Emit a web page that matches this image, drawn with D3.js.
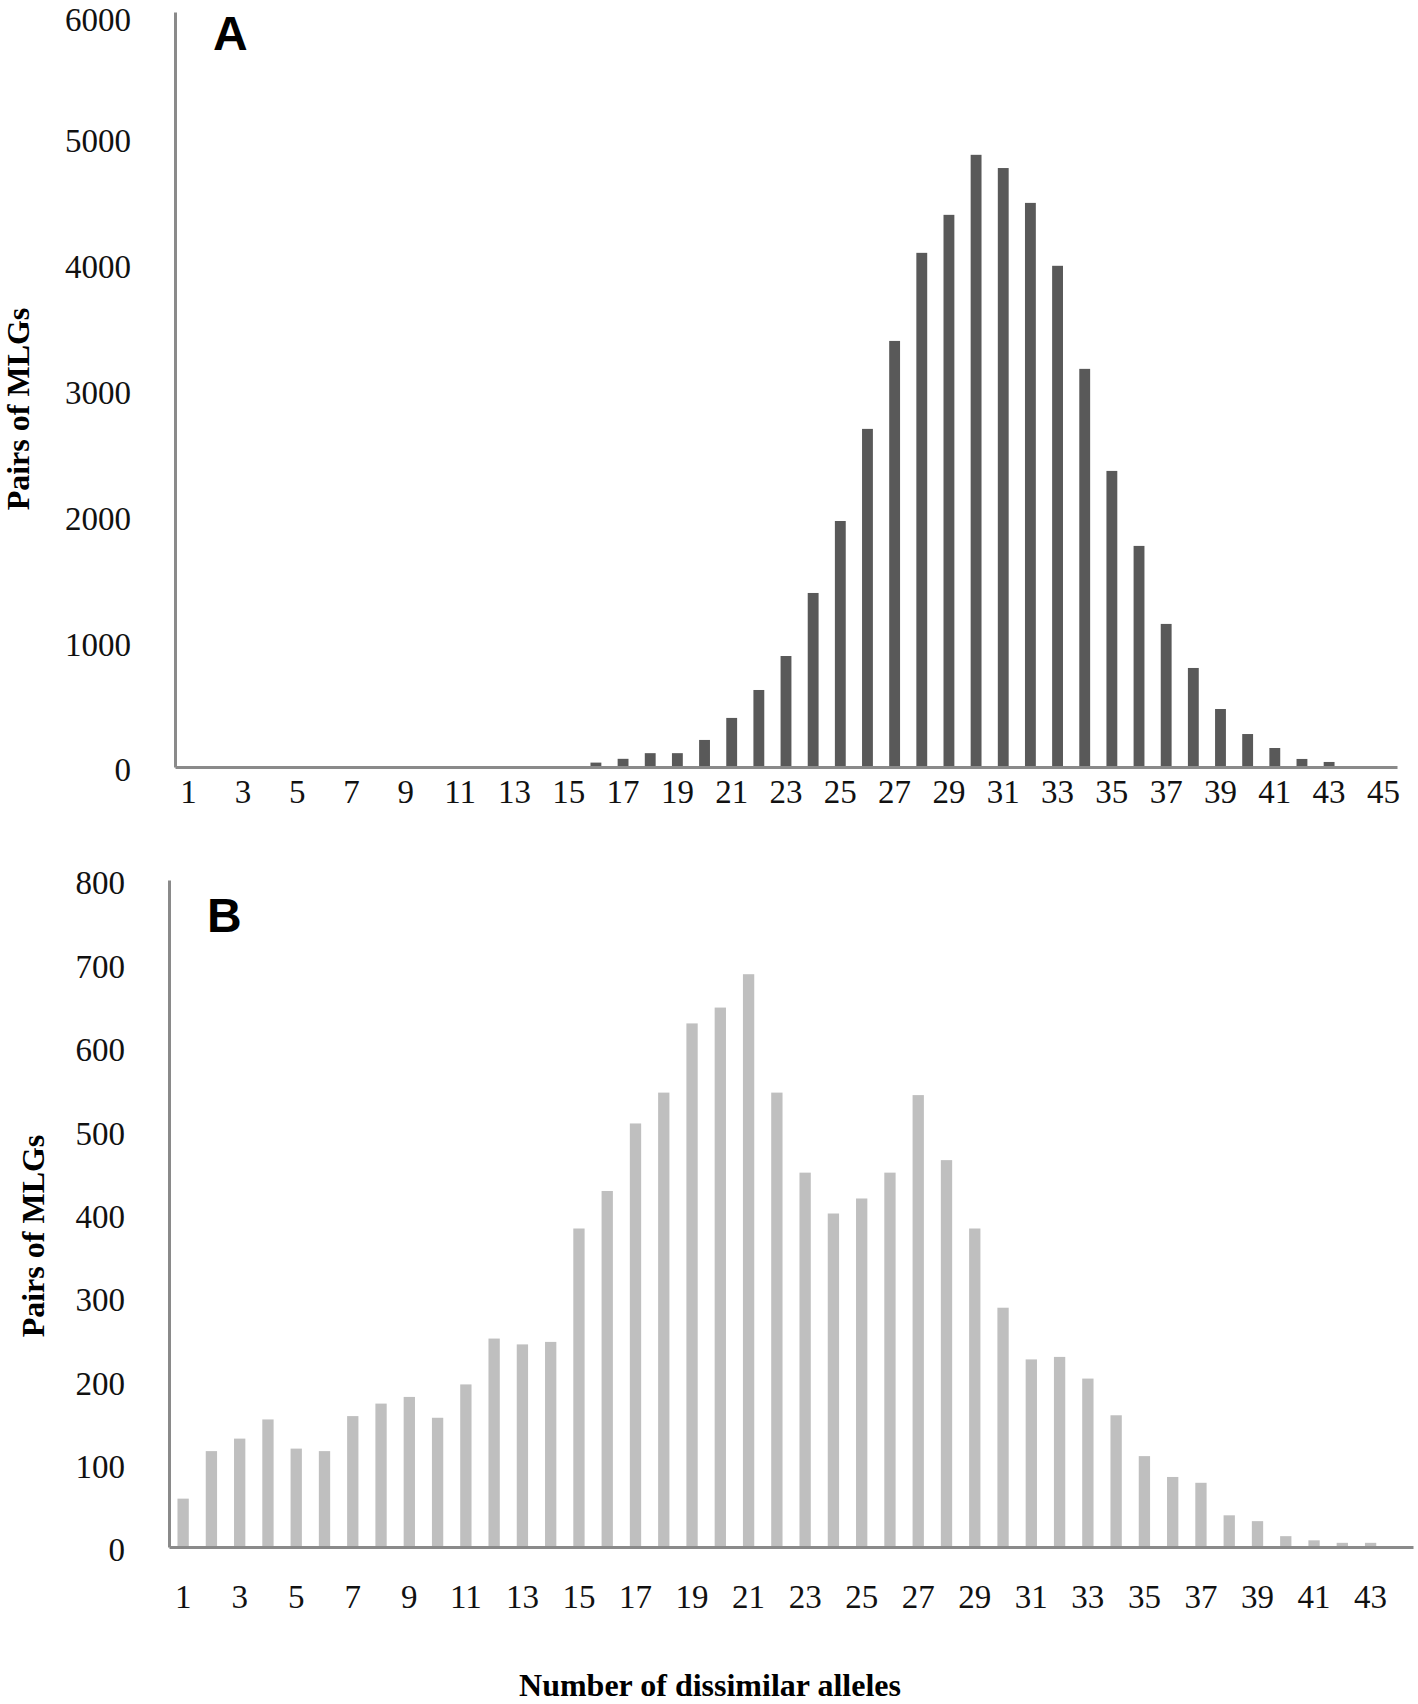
<!DOCTYPE html>
<html>
<head>
<meta charset="utf-8">
<script src="https://cdn.jsdelivr.net/npm/d3@7"></script>
<style>
  body { margin: 0; background: #fff; }
  svg { display: block; }
</style>
</head>
<body>
<svg width="1418" height="1704"></svg>
<script>
// число несхожих аллелей (категории по оси X)
const allelesA = d3.range(1, 46);
const allelesB = d3.range(1, 45);

// Панель A: пары MLG
const pairsA = [0, 0, 0, 0, 0, 0, 0, 0, 0, 0, 0, 0, 0, 0, 0,
  35, 65, 110, 110, 215, 390, 612, 882, 1383, 1955, 2687, 3386, 4086, 4388, 4865,
  4760, 4483, 3983, 3164, 2353, 1757, 1137, 787, 461, 262, 151, 64, 40, 0, 0];

// Панель B: пары MLG
const pairsB = [58, 115, 130, 153, 118, 115, 157, 172, 180, 155,
  195, 250, 243, 246, 382, 427, 508, 545, 628, 647,
  687, 545, 449, 400, 418, 449, 542, 464, 382, 287,
  225, 228, 202, 158, 109, 84, 77, 38, 31, 13,
  8, 5, 5, 0];

const ticksYA = [0, 1000, 2000, 3000, 4000, 5000, 6000];
const ticksYB = [0, 100, 200, 300, 400, 500, 600, 700, 800];
const ticksXA = allelesA.filter(d => d % 2 === 1);
const ticksXB = allelesB.filter(d => d % 2 === 1);

const svg = d3.select("svg");
const axisColor = "#8a8a8a";
const serif = "'Liberation Serif', 'Times New Roman', serif";

function drawPanel(opt) {
    const x = d3.scaleBand()
        .domain(opt.cats)
        .range([opt.left, opt.right])
        .paddingInner(0.6)
        .paddingOuter(0.3);
    const y = d3.scaleLinear()
        .domain([0, opt.max])
        .range([opt.bottom, opt.top]);

    const g = svg.append("g");

    // столбцы
    g.selectAll("rect")
        .data(opt.values)
        .join("rect")
        .attr("x", (d, i) => x(opt.cats[i]))
        .attr("width", x.bandwidth())
        .attr("y", d => y(d))
        .attr("height", d => y(0) - y(d))
        .attr("fill", opt.color);

    // ось X
    const ax = g.append("g")
        .attr("transform", `translate(0,${opt.bottom})`)
        .call(d3.axisBottom(x).tickValues(opt.ticksX).tickSize(0).tickPadding(opt.xPad));
    // ось Y
    const ay = g.append("g")
        .attr("transform", `translate(${opt.left},0)`)
        .call(d3.axisLeft(y).tickValues(opt.ticksY).tickFormat(d3.format("d"))
            .tickSize(0).tickPadding(44));

    [ax, ay].forEach(a => {
        a.select(".domain").attr("stroke", axisColor).attr("stroke-width", 3);
        a.selectAll("text")
            .attr("font-family", serif)
            .attr("font-size", 33)
            .attr("fill", "#111");
    });
    // верхняя подпись чуть ниже, чтобы не обрезалась краем
    ay.selectAll("text").attr("dy", d => (y(d) < 20 ? "0.55em" : "0.42em"));

    // буква панели
    g.append("text")
        .attr("x", opt.left + 38)
        .attr("y", opt.letterY)
        .attr("font-family", "'Liberation Sans', Arial, sans-serif")
        .attr("font-weight", "bold")
        .attr("font-size", 48)
        .text(opt.letter);

    // подпись оси Y
    g.append("text")
        .attr("transform", `translate(${opt.titleX},${opt.titleY}) rotate(-90)`)
        .attr("text-anchor", "middle")
        .attr("font-family", serif)
        .attr("font-weight", "bold")
        .attr("font-size", 32)
        .text("Pairs of MLGs");
}

drawPanel({
    cats: allelesA, values: pairsA, max: 6000,
    ticksX: ticksXA, ticksY: ticksYA,
    left: 175, right: 1397, top: 12, bottom: 767,
    xPad: 13, color: "#595959", letter: "A", letterY: 50,
    titleX: 29, titleY: 409
});

drawPanel({
    cats: allelesB, values: pairsB, max: 800,
    ticksX: ticksXB, ticksY: ticksYB,
    left: 169, right: 1413, top: 880, bottom: 1547,
    xPad: 38, color: "#bfbfbf", letter: "B", letterY: 932,
    titleX: 44, titleY: 1236
});

// общая подпись оси X
svg.append("text")
    .attr("x", 710)
    .attr("y", 1696)
    .attr("text-anchor", "middle")
    .attr("font-family", serif)
    .attr("font-weight", "bold")
    .attr("font-size", 32)
    .text("Number of dissimilar alleles");
</script>
</body>
</html>
